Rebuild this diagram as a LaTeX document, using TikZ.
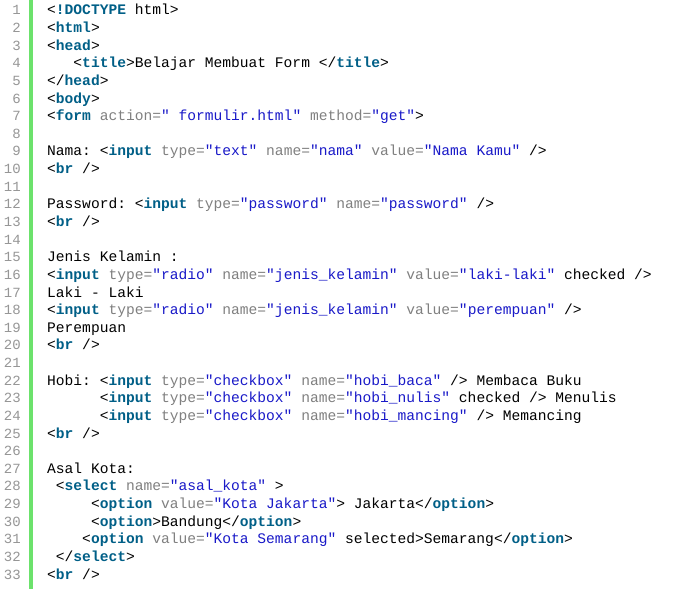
\documentclass[tikz,border=0pt]{standalone}
\usepackage{fontspec}
\setmonofont{Liberation Mono}
\definecolor{tagc}{RGB}{0,95,135}
\definecolor{attc}{RGB}{128,128,128}
\definecolor{valc}{RGB}{25,25,200}
\definecolor{numc}{RGB}{150,150,150}
\definecolor{barc}{RGB}{108,226,108}
\newcommand{\tg}[1]{\textcolor{tagc}{\textbf{#1}}}
\newcommand{\at}[1]{\textcolor{attc}{#1}}
\newcommand{\vl}[1]{\textcolor{valc}{#1}}
\newcommand{\ind}[1]{\hspace*{#1\dimexpr 0.6em\relax}}
\tikzset{code/.style={anchor=base west,inner sep=0pt,font=\ttfamily\fontsize{14.6bp}{17bp}\selectfont},
num/.style={anchor=base east,inner sep=0pt,text=numc,font=\ttfamily\fontsize{14bp}{17bp}\selectfont}}
\newcommand{\codeln}[2]{\node[code] (l#1) at (47,{15+17.625*(#1-1)}) {#2};}
\begin{document}
\begin{tikzpicture}[x=1bp,y=-1bp]
\useasboundingbox[fill=white] (0,0) rectangle (697,589);
\fill[barc] (29,0) rectangle (32.5,589);
\foreach \i in {1,...,33}{\node[num] (n\i) at (21,{15+17.625*(\i-1)}) {\i};}
\codeln{1}{<\tg{!DOCTYPE} html>}
\codeln{2}{<\tg{html}>}
\codeln{3}{<\tg{head}>}
\codeln{4}{\ind{3}<\tg{title}>Belajar Membuat Form </\tg{title}>}
\codeln{5}{</\tg{head}>}
\codeln{6}{<\tg{body}>}
\codeln{7}{<\tg{form} \at{action=}\vl{" formulir.html"} \at{method=}\vl{"get"}>}
\codeln{9}{Nama: <\tg{input} \at{type=}\vl{"text"} \at{name=}\vl{"nama"} \at{value=}\vl{"Nama Kamu"} />}
\codeln{10}{<\tg{br} />}
\codeln{12}{Password: <\tg{input} \at{type=}\vl{"password"} \at{name=}\vl{"password"} />}
\codeln{13}{<\tg{br} />}
\codeln{15}{Jenis Kelamin :}
\codeln{16}{<\tg{input} \at{type=}\vl{"radio"} \at{name=}\vl{"jenis\_kelamin"} \at{value=}\vl{"laki-laki"} checked />}
\codeln{17}{Laki - Laki}
\codeln{18}{<\tg{input} \at{type=}\vl{"radio"} \at{name=}\vl{"jenis\_kelamin"} \at{value=}\vl{"perempuan"} />}
\codeln{19}{Perempuan}
\codeln{20}{<\tg{br} />}
\codeln{22}{Hobi: <\tg{input} \at{type=}\vl{"checkbox"} \at{name=}\vl{"hobi\_baca"} /> Membaca Buku}
\codeln{23}{\ind{6}<\tg{input} \at{type=}\vl{"checkbox"} \at{name=}\vl{"hobi\_nulis"} checked /> Menulis}
\codeln{24}{\ind{6}<\tg{input} \at{type=}\vl{"checkbox"} \at{name=}\vl{"hobi\_mancing"} /> Memancing}
\codeln{25}{<\tg{br} />}
\codeln{27}{Asal Kota:}
\codeln{28}{\ind{1}<\tg{select} \at{name=}\vl{"asal\_kota"} >}
\codeln{29}{\ind{5}<\tg{option} \at{value=}\vl{"Kota Jakarta"}> Jakarta</\tg{option}>}
\codeln{30}{\ind{5}<\tg{option}>Bandung</\tg{option}>}
\codeln{31}{\ind{4}<\tg{option} \at{value=}\vl{"Kota Semarang"} selected>Semarang</\tg{option}>}
\codeln{32}{\ind{1}</\tg{select}>}
\codeln{33}{<\tg{br} />}
\end{tikzpicture}
\end{document}
